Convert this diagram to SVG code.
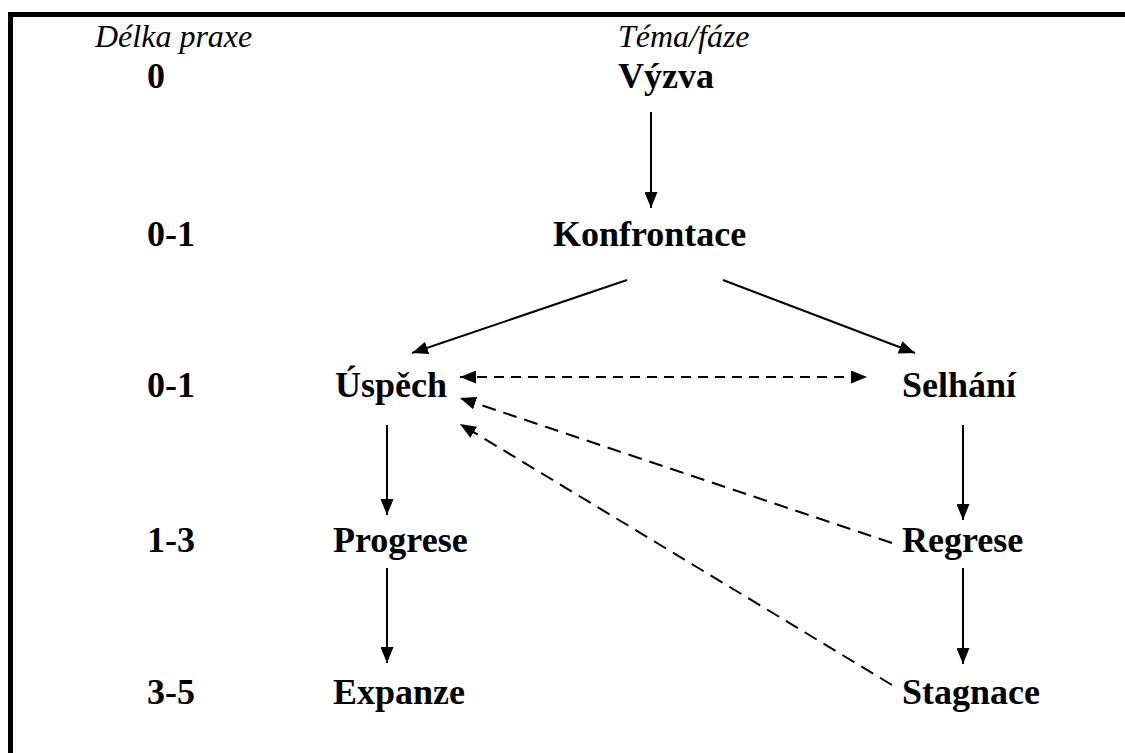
<svg xmlns="http://www.w3.org/2000/svg" width="1125" height="753" viewBox="0 0 1125 753">
<style>
.b{font-family:"Liberation Serif","Times New Roman",serif;font-weight:bold;font-size:36px;fill:#000}
.i{font-family:"Liberation Serif","Times New Roman",serif;font-style:italic;font-size:32px;fill:#000}
.l{stroke:#000;stroke-width:2;fill:none}
.d{stroke-dasharray:10 7}
.d2{stroke-dasharray:14 8}
</style>
<defs>
<marker id="ah" viewBox="0 0 16 13" refX="16" refY="6.5" markerWidth="16" markerHeight="13" markerUnits="userSpaceOnUse" orient="auto-start-reverse">
<path d="M0,0 L16,6.5 L0,13 Z" fill="#000"/>
</marker>
</defs>
<rect width="1125" height="753" fill="#fff"/>
<g id="frame">
<line x1="8" y1="14.5" x2="1125" y2="14.5" stroke="#000" stroke-width="5"/>
<line x1="10.5" y1="12" x2="10.5" y2="753" stroke="#000" stroke-width="5"/>
</g>
<g id="headers">
<text class="i" x="95" y="47">Délka praxe</text>
<text class="i" x="618" y="47">Téma/fáze</text>
</g>
<g id="years">
<text class="b" x="147" y="88">0</text>
<text class="b" x="147" y="246">0-1</text>
<text class="b" x="147" y="397">0-1</text>
<text class="b" x="147" y="552">1-3</text>
<text class="b" x="147" y="704">3-5</text>
</g>
<g id="vyzva"><text class="b" x="618" y="88">Výzva</text></g>
<g id="konfrontace"><text class="b" x="553" y="246">Konfrontace</text></g>
<g id="uspech"><text class="b" x="335" y="397">Úspěch</text></g>
<g id="selhani"><text class="b" x="902" y="397">Selhání</text></g>
<g id="progrese"><text class="b" x="333" y="552">Progrese</text></g>
<g id="regrese"><text class="b" x="902" y="552">Regrese</text></g>
<g id="expanze"><text class="b" x="333" y="704">Expanze</text></g>
<g id="stagnace"><text class="b" x="902" y="704">Stagnace</text></g>
<g id="connectors">
<line class="l" x1="651" y1="112" x2="651" y2="208" marker-end="url(#ah)"/>
<line class="l" x1="627" y1="280" x2="412" y2="353" marker-end="url(#ah)"/>
<line class="l" x1="723" y1="280" x2="915" y2="353" marker-end="url(#ah)"/>
<line class="l d" x1="460" y1="377" x2="867" y2="377" marker-start="url(#ah)" marker-end="url(#ah)"/>
<line class="l" x1="387" y1="425" x2="387" y2="515" marker-end="url(#ah)"/>
<line class="l" x1="387" y1="568" x2="387" y2="663" marker-end="url(#ah)"/>
<line class="l" x1="963" y1="425" x2="963" y2="520" marker-end="url(#ah)"/>
<line class="l" x1="963" y1="568" x2="963" y2="664" marker-end="url(#ah)"/>
<line class="l d2" x1="892" y1="543" x2="460" y2="398" marker-end="url(#ah)"/>
<line class="l d2" x1="892" y1="685" x2="460" y2="424" marker-end="url(#ah)"/>
</g>
</svg>
